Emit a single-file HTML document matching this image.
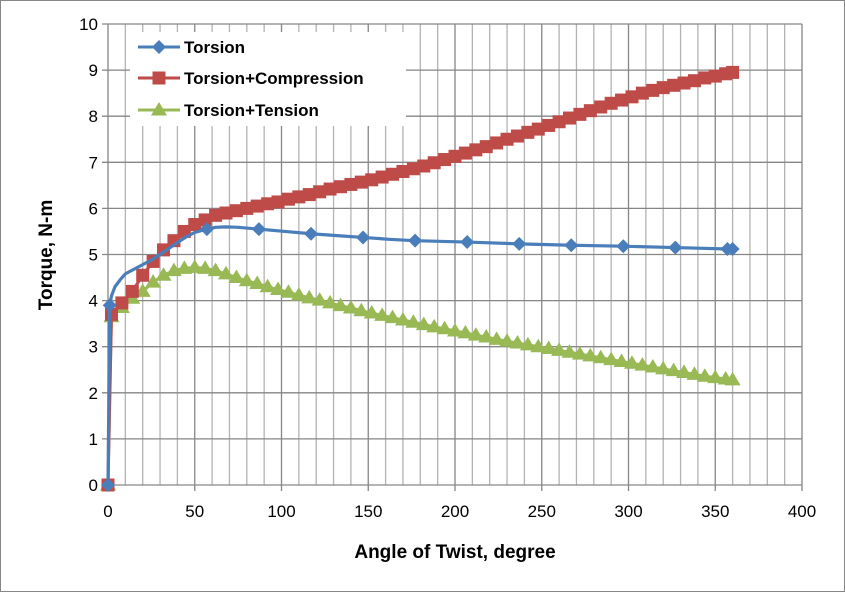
<!DOCTYPE html>
<html><head><meta charset="utf-8"><style>
body{margin:0;background:#fff}
svg{display:block;font-family:"Liberation Sans",sans-serif}
</style></head><body>
<svg id="c" width="845" height="592">
<rect x="0.5" y="0.5" width="844" height="591" fill="#fff" stroke="#868686"/>
<g id="grid"></g><g id="series"></g><g id="ticks"></g>
<text x="455" y="558" text-anchor="middle" font-size="19" font-weight="bold">Angle of Twist, degree</text>
<text transform="translate(52,255) rotate(-90)" text-anchor="middle" font-size="19" font-weight="bold">Torque, N-m</text>
<g id="legend"></g>
</svg>
<script>
const xTicks=[0,50,100,150,200,250,300,350,400];
const yTicks=[0,1,2,3,4,5,6,7,8,9,10];
const torsionX=[0,1,2,4,7,10,15,20,25,30,35,40,45,50,57,62,68,75,87,102,117,132,147,162,177,207,237,267,297,327,357,360];
const torsionY=[0,3.9,4.1,4.3,4.45,4.58,4.68,4.78,4.88,5.0,5.13,5.26,5.38,5.48,5.55,5.59,5.6,5.59,5.55,5.5,5.45,5.41,5.37,5.33,5.3,5.27,5.23,5.2,5.18,5.15,5.12,5.12];
const torsionMarks=[0,1,14,18,20,22,24,25,26,27,28,29,30,31];
const sampleX=[0,2,8,14,20,26,32,38,44,50,56,62,68,74,80,86,92,98,104,110,116,122,128,134,140,146,152,158,164,170,176,182,188,194,200,206,212,218,224,230,236,242,248,254,260,266,272,278,284,290,296,302,308,314,320,326,332,338,344,350,356,360];
const compY=[0,3.7,3.95,4.2,4.55,4.85,5.1,5.3,5.5,5.65,5.75,5.85,5.9,5.95,6.0,6.05,6.1,6.14,6.2,6.25,6.3,6.36,6.42,6.47,6.52,6.57,6.62,6.68,6.74,6.8,6.86,6.92,6.99,7.06,7.13,7.2,7.27,7.34,7.42,7.5,7.57,7.65,7.72,7.8,7.88,7.96,8.04,8.12,8.2,8.28,8.35,8.42,8.5,8.56,8.62,8.67,8.72,8.77,8.83,8.87,8.92,8.95];
const tensY=[0,3.65,3.85,4.05,4.2,4.4,4.55,4.65,4.7,4.72,4.7,4.65,4.58,4.5,4.43,4.37,4.3,4.24,4.18,4.12,4.06,4.01,3.95,3.89,3.84,3.78,3.73,3.68,3.63,3.58,3.53,3.48,3.43,3.39,3.34,3.3,3.25,3.21,3.16,3.12,3.08,3.04,3.0,2.96,2.92,2.88,2.84,2.8,2.76,2.72,2.68,2.64,2.6,2.56,2.52,2.48,2.44,2.4,2.36,2.33,2.3,2.28];

const X0=108,X1=802,Y0=485,Y1=24;
const sx=v=>X0+(X1-X0)*v/400, sy=v=>Y0-(Y0-Y1)*v/10;
const NS="http://www.w3.org/2000/svg";
function mk(p,t,a){const e=document.createElementNS(NS,t);for(const k in a)e.setAttribute(k,a[k]);p.appendChild(e);return e;}
const grid=document.getElementById('grid'),ticks=document.getElementById('ticks'),ser=document.getElementById('series'),leg=document.getElementById('legend');
for(let v=10;v<400;v+=10){if(v%50===0)continue;const l=mk(grid,'line',{x1:sx(v),x2:sx(v),y1:Y1,y2:Y0,stroke:'#b3b3b3','stroke-width':1.3});

}
xTicks.forEach(v=>{const l=mk(grid,'line',{x1:sx(v),x2:sx(v),y1:Y1,y2:Y0+6,stroke:'#868686','stroke-width':1.3});


const t=mk(ticks,'text',{x:sx(v),y:Y0+32,'text-anchor':'middle','font-size':17});t.textContent=v;

});
yTicks.forEach(v=>{const l=mk(grid,'line',{x1:X0-6,x2:X1,y1:sy(v),y2:sy(v),stroke:'#868686','stroke-width':1.3});


const t=mk(ticks,'text',{x:X0-10,y:sy(v)+6,'text-anchor':'end','font-size':17});t.textContent=v;

});
function poly(xs,ys){return 'M'+xs.map((x,i)=>sx(x)+','+sy(ys[i])).join('L');}
function marker(g,type,x,y,col){let e;
if(type==='d')e=mk(g,'path',{d:`M${x},${y-7}L${x+7},${y}L${x},${y+7}L${x-7},${y}Z`,fill:col});
else if(type==='s')e=mk(g,'rect',{x:x-6.5,y:y-6.5,width:13,height:13,fill:col});
else e=mk(g,'path',{d:`M${x},${y-8}L${x+8},${y+5.5}L${x-8},${y+5.5}Z`,fill:col});return e;}
const B='#4a7ebb',R='#be4b48',G='#98b954';
let p=mk(ser,'path',{d:poly(sampleX,tensY),stroke:G,'stroke-width':3,fill:'none','stroke-linejoin':'round'});


sampleX.forEach((x,i)=>{const m=marker(ser,'t',sx(x),sy(tensY[i]),G);

});
p=mk(ser,'path',{d:poly(sampleX,compY),stroke:R,'stroke-width':3,fill:'none','stroke-linejoin':'round'});


sampleX.forEach((x,i)=>{const m=marker(ser,'s',sx(x),sy(compY[i]),R);

});
p=mk(ser,'path',{d:poly(torsionX,torsionY),stroke:B,'stroke-width':3.2,fill:'none','stroke-linejoin':'round'});


torsionMarks.forEach(i=>{const m=marker(ser,'d',sx(torsionX[i]),sy(torsionY[i]),B);

});
mk(leg,'rect',{x:130,y:32,width:276,height:94,fill:'#fff'});
[['Torsion',B,'d',47],['Torsion+Compression',R,'s',78],['Torsion+Tension',G,'t',110]].forEach(([n,c,t,y])=>{
const g=mk(leg,'g',{});


mk(g,'line',{x1:138,x2:180,y1:y,y2:y,stroke:c,'stroke-width':3});marker(g,t,159,y,c);
const tx=mk(g,'text',{x:184,y:y+6,'font-size':17,'font-weight':'bold'});tx.textContent=n;});
</script>
</body></html>
